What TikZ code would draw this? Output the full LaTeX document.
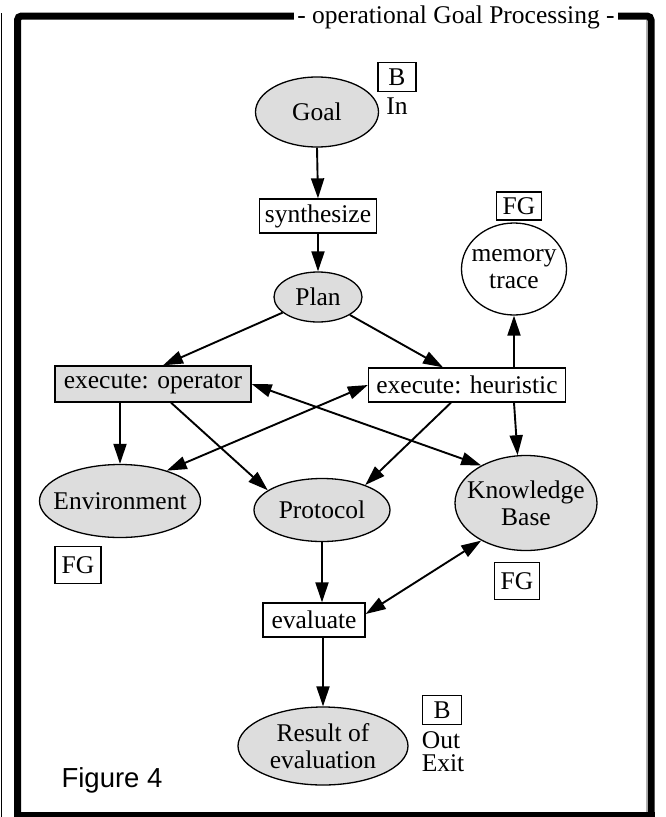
\documentclass[tikz,border=0pt]{standalone}
\usepackage{fontspec}
\setmainfont{Liberation Serif}
\newfontfamily\figfont{Liberation Sans}
\usetikzlibrary{shapes.geometric,arrows.meta,calc}
\definecolor{nodegray}{RGB}{221,221,221}
\begin{document}
\begin{tikzpicture}[x=1pt,y=-1pt,
  every node/.style={font=\fontsize{25.5}{27}\selectfont, inner sep=0pt},
  ell/.style={ellipse, draw, line width=1.3pt, fill=nodegray, align=center, inner xsep=-20pt, inner ysep=-12pt},
  box/.style={rectangle, draw, line width=1.3pt, align=center},
  tag/.style={rectangle, draw, line width=1.3pt},
  arr/.style={line width=1.9pt, -{Triangle[length=20pt,width=13pt]}},
  darr/.style={line width=1.9pt, {Triangle[length=20pt,width=13pt]}-{Triangle[length=20pt,width=13pt]}},
]
\useasboundingbox (0,0) rectangle (666,817);
% frame
\draw[line width=1.5pt] (1.5,13) -- (1.5,817);
\draw[line width=7pt, rounded corners=4pt] (17.5,820) -- (17.5,16) -- (651,16) -- (651,820);
\draw[line width=7pt] (14,815.5) -- (655,815.5);
\draw[gray!60, line width=1pt] (646.5,19.5) -- (646.5,812);
\node[fill=white, inner xsep=3pt, inner ysep=5pt, anchor=base] (title) at (456,23) {- operational Goal Processing -};

% nodes
\node[ell, minimum width=123pt, minimum height=70pt] (goal) at (317,112) {Goal};
\node[tag, minimum width=38pt, minimum height=29pt] (b1) at (397,77) {B};
\node (in) at (397,106) {In};
\node[box, minimum width=117pt, minimum height=34pt] (synth) at (318,216) {synthesize};
\node[ell, minimum width=88pt, minimum height=50pt] (plan) at (318,297) {Plan};
\node[tag, minimum width=45pt, minimum height=28pt] (fg1) at (519,206) {FG};
\node[ell, fill=white, minimum width=105pt, minimum height=92pt] (mem) at (514,269) {memory\\trace};
\node[box, fill=nodegray, minimum width=196pt, minimum height=36pt] (exop) at (153,384) {execute: operator};
\node[box, minimum width=197pt, minimum height=34pt] (exheu) at (467,385) {execute: heuristic};
\node[ell, minimum width=161pt, minimum height=73pt] (env) at (120,501) {Environment};
\node[ell, minimum width=136pt, minimum height=63pt] (prot) at (322,510) {Protocol};
\node[ell, minimum width=142pt, minimum height=95pt] (kb) at (526,503) {Knowledge\\Base};
\node[tag, minimum width=46pt, minimum height=37pt] (fg2) at (78,565) {FG};
\node[tag, minimum width=45pt, minimum height=37pt] (fg3) at (517,581) {FG};
\node[box, minimum width=102pt, minimum height=34pt] (eval) at (314,620) {evaluate};
\node[ell, minimum width=170pt, minimum height=78pt] (res) at (323,746) {Result of\\evaluation};
\node[tag, minimum width=39pt, minimum height=29pt] (b2) at (442,710) {B};
\node (out) at (441,740) {Out};
\node (exit) at (443,763) {Exit};
\node[font=\figfont\fontsize{27.5}{30}\selectfont] (fig) at (112,780) {Figure 4};

% connectors
\draw[arr] (goal.south) -- (synth.north);
\draw[arr] (synth) -- (plan);
\draw[arr] (plan) -- ([xshift=10pt]exop.north);
\draw[arr] (plan) -- ([xshift=-24pt]exheu.north);
\draw[arr] ([xshift=47pt]exheu.north) -- (mem.south);
\draw[arr] ([xshift=47pt]exheu.south) -- (kb.100);
\draw[arr] ([xshift=-33pt]exop.south) -- (env.north);
\draw[arr] ([xshift=18pt]exop.south) -- (prot.160);
\draw[arr] ([xshift=-16pt]exheu.south) -- (prot.30);
\draw[darr] (exop.east) -- (kb.140);
\draw[darr] (env.33) -- (exheu.west);
\draw[arr] (prot.south) -- (prot.south |- eval.north);
\draw[darr] ([yshift=6pt]eval.east) -- (kb.220);
\draw[arr] (eval.south -| res) -- (res.north);
\end{tikzpicture}
\end{document}
